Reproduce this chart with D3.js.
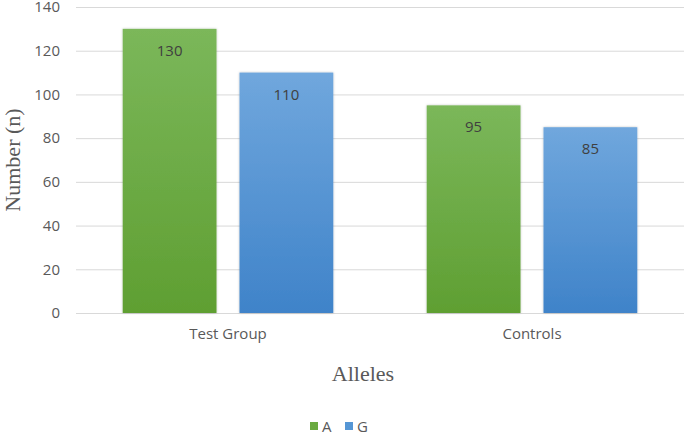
<!DOCTYPE html>
<html>
<head>
<meta charset="utf-8">
<script src="https://cdn.jsdelivr.net/npm/d3@7"></script>
<style>
  body { margin: 0; background: #fff; }
  svg { display: block; }
</style>
</head>
<body>
<div id="chart"></div>
<script>
// data
const groups = ['Test Group', 'Controls'];
const alleles = ['A', 'G'];
const valuesA = [130, 95];
const valuesG = [110, 85];
const yTicks = [0, 20, 40, 60, 80, 100, 120, 140];

const width = 685, height = 435;
const margin = { top: 7, right: 1, bottom: 122, left: 76 };
const chartWidth = width - margin.left - margin.right;
const chartHeight = height - margin.top - margin.bottom;

const colors = {
    A: ['#7bb75a', '#5f9f32'],
    G: ['#70a7dd', '#3f83c9']
};
const legendFill = { A: '#6aaa40', G: '#5596d5' };

const svg = d3.select('#chart').append('svg')
    .attr('width', width)
    .attr('height', height);

const defs = svg.append('defs');
alleles.forEach(a => {
    const g = defs.append('linearGradient')
        .attr('id', 'grad-' + a)
        .attr('x1', 0).attr('y1', 0).attr('x2', 0).attr('y2', 1);
    g.append('stop').attr('offset', '0%').attr('stop-color', colors[a][0]);
    g.append('stop').attr('offset', '100%').attr('stop-color', colors[a][1]);
});
const shadow = defs.append('filter').attr('id', 'shadow')
    .attr('x', '-10%').attr('y', '-10%').attr('width', '120%').attr('height', '120%');
shadow.append('feDropShadow')
    .attr('dx', 0).attr('dy', 0).attr('stdDeviation', 1.2)
    .attr('flood-color', '#000').attr('flood-opacity', 0.25);

const chart = svg.append('g')
    .attr('transform', `translate(${margin.left},${margin.top})`);

const x0 = d3.scaleBand().domain(groups).range([0, chartWidth]).paddingInner(0).paddingOuter(0);
const x1 = d3.scaleBand().domain(alleles).range([0, x0.bandwidth()]).paddingInner(0.197).paddingOuter(0.4);
const y = d3.scaleLinear().domain([0, 140]).range([chartHeight, 0]);

// gridlines
chart.append('g')
    .selectAll('line')
    .data(yTicks)
    .join('line')
    .attr('x1', 0)
    .attr('x2', chartWidth)
    .attr('y1', d => y(d) + 0.5)
    .attr('y2', d => y(d) + 0.5)
    .attr('stroke', '#d9d9d9')
    .attr('stroke-width', 1);

// y axis labels
const yAxis = d3.axisLeft(y).tickValues(yTicks).tickSize(0).tickPadding(16);
const yAxisG = chart.append('g').call(yAxis);
yAxisG.select('.domain').remove();
yAxisG.selectAll('text')
    .attr('fill', '#595959')
    .attr('font-family', '"Open Sans", sans-serif')
    .attr('font-size', 15);

// x axis labels
const xAxis = d3.axisBottom(x0).tickSize(0).tickPadding(15);
const xAxisG = chart.append('g').attr('transform', `translate(0,${chartHeight})`).call(xAxis);
xAxisG.select('.domain').remove();
xAxisG.selectAll('text')
    .attr('fill', '#595959')
    .attr('font-family', '"Open Sans", sans-serif')
    .attr('font-size', 15);

// bars
const rows = groups.map((g, i) => ({
    group: g,
    items: [
        { allele: 'A', value: valuesA[i] },
        { allele: 'G', value: valuesG[i] }
    ]
}));

const groupG = chart.selectAll('.group')
    .data(rows)
    .join('g')
    .attr('class', 'group')
    .attr('transform', d => `translate(${x0(d.group)},0)`);

groupG.selectAll('rect')
    .data(d => d.items)
    .join('rect')
    .attr('x', d => x1(d.allele))
    .attr('y', d => y(d.value))
    .attr('width', x1.bandwidth())
    .attr('height', d => chartHeight - y(d.value))
    .attr('fill', d => `url(#grad-${d.allele})`)
    .attr('filter', 'url(#shadow)');

groupG.selectAll('.val')
    .data(d => d.items)
    .join('text')
    .attr('class', 'val')
    .attr('x', d => x1(d.allele) + x1.bandwidth() / 2)
    .attr('y', d => y(d.value) + 27)
    .attr('text-anchor', 'middle')
    .attr('fill', '#404040')
    .attr('font-family', '"Open Sans", sans-serif')
    .attr('font-size', 15)
    .text(d => d.value);

// axis titles
svg.append('text')
    .attr('transform', `translate(20,${margin.top + chartHeight / 2}) rotate(-90)`)
    .attr('text-anchor', 'middle')
    .attr('fill', '#595959')
    .attr('font-family', '"Liberation Serif", serif')
    .attr('font-size', 22)
    .text('Number (n)');

svg.append('text')
    .attr('x', 363)
    .attr('y', 381)
    .attr('text-anchor', 'middle')
    .attr('fill', '#595959')
    .attr('font-family', '"Liberation Serif", serif')
    .attr('font-size', 22)
    .text('Alleles');

// legend
const legendX = [310, 345];
const legend = svg.append('g').selectAll('g')
    .data(alleles)
    .join('g')
    .attr('transform', (d, i) => `translate(${legendX[i]},422)`);
legend.append('rect')
    .attr('width', 8).attr('height', 8)
    .attr('fill', d => legendFill[d]);
legend.append('text')
    .attr('x', 12)
    .attr('y', 9.5)
    .attr('fill', '#595959')
    .attr('font-family', '"Open Sans", sans-serif')
    .attr('font-size', 15)
    .text(d => d);
</script>
</body>
</html>
